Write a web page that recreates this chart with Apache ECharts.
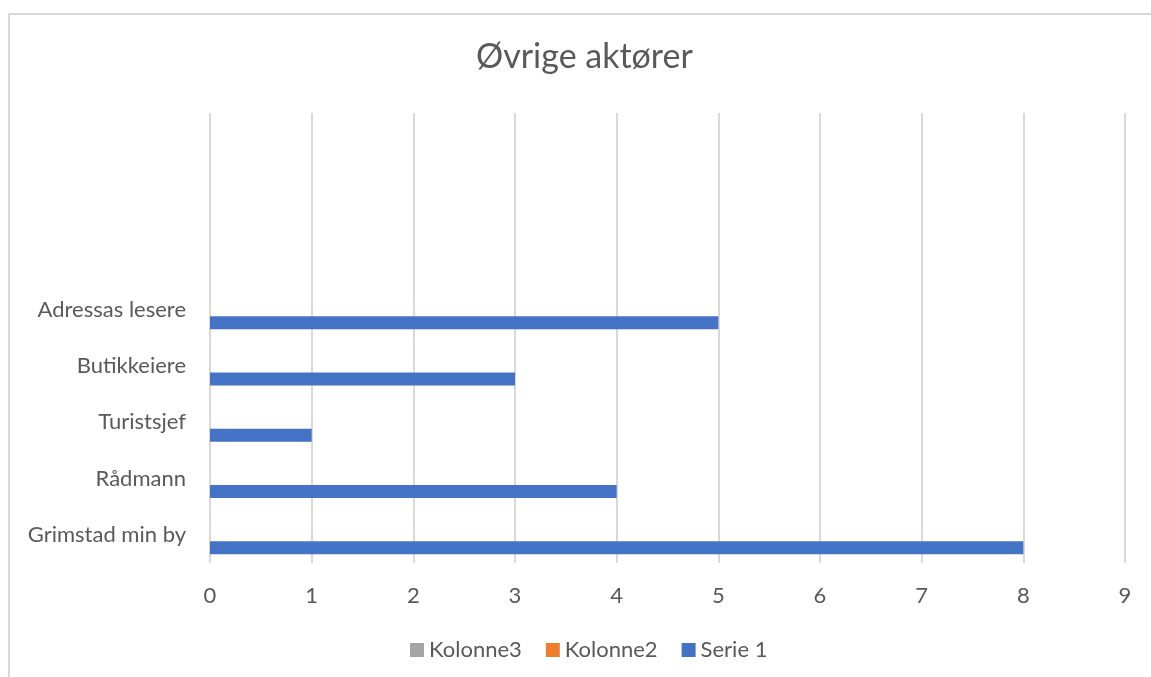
<!DOCTYPE html>
<html>
<head>
<meta charset="utf-8">
<script src="https://cdn.jsdelivr.net/npm/echarts@6/dist/echarts.min.js"></script>
<style>
html,body{margin:0;padding:0;background:#fff;overflow:hidden;}
#frame{position:absolute;left:8px;top:13px;width:1300px;height:800px;border:2px solid #d9d9d9;box-sizing:border-box;}
#chart{position:absolute;left:0;top:0;width:1151px;height:677px;}
</style>
</head>
<body>
<div id="frame"></div>
<div id="chart"></div>
<script>
const titleText = 'Øvrige aktører';
const categories = ['Grimstad min by', 'Rådmann', 'Turistsjef', 'Butikkeiere', 'Adressas lesere', '', '', ''];
const kolonne3 = [null, null, null, null, null, null, null, null];
const kolonne2 = [null, null, null, null, null, null, null, null];
const serie1 = [8, 4, 1, 3, 5, null, null, null];
const seriesNames = ['Kolonne3', 'Kolonne2', 'Serie 1'];
const seriesColors = ['#A5A5A5', '#ED7D31', '#4472C4'];
const seriesData = [kolonne3, kolonne2, serie1];

const FONT = 'Lato, "Open Sans", sans-serif';
const chart = echarts.init(document.getElementById('chart'), null, {renderer: 'canvas'});
chart.setOption({
  animation: false,
  title: {
    text: titleText,
    left: 471,
    top: 35,
    textStyle: {fontFamily: FONT, fontSize: 34, fontWeight: 'normal', color: '#595959'}
  },
  legend: {
    data: seriesNames,
    left: 405,
    top: 634,
    itemWidth: 14,
    itemHeight: 14,
    itemGap: 24,
    icon: 'rect',
    textStyle: {fontFamily: FONT, fontSize: 22, color: '#595959'}
  },
  grid: {left: 210, right: 26, top: 113, bottom: 114, containLabel: false},
  xAxis: {
    type: 'value',
    min: 0, max: 9, interval: 1,
    axisLine: {show: false},
    axisTick: {show: false},
    axisLabel: {fontFamily: FONT, fontSize: 22, color: '#595959', margin: 22},
    splitLine: {show: true, lineStyle: {color: '#d9d9d9', width: 2}}
  },
  yAxis: {
    type: 'category',
    data: categories,
    axisLine: {show: false},
    axisTick: {show: false},
    axisLabel: {fontFamily: FONT, fontSize: 22, color: '#595959', margin: 24},
    splitLine: {show: false}
  },
  series: seriesNames.map((n, i) => ({
    name: n,
    type: 'bar',
    data: seriesData[i],
    itemStyle: {color: seriesColors[i]},
    barGap: '0%',
    barCategoryGap: '31%'
  }))
});
</script>
</body>
</html>
